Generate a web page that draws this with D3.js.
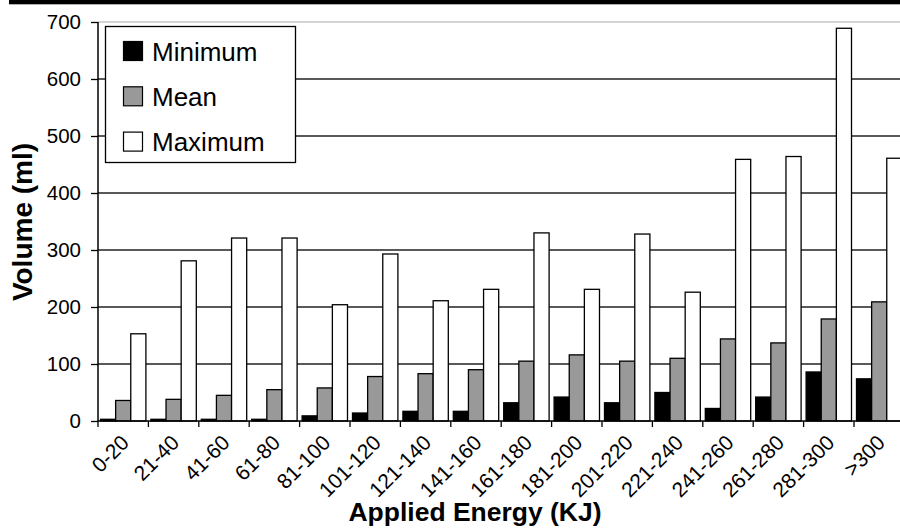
<!DOCTYPE html>
<html>
<head>
<meta charset="utf-8">
<script src="https://cdn.jsdelivr.net/npm/d3@7/dist/d3.min.js"></script>
<style>
  html, body { margin: 0; padding: 0; background: #fff; }
  svg { display: block; font-family: "Liberation Sans", Arial, Helvetica, sans-serif; }
</style>
</head>
<body>
<svg id="chart" width="900" height="529"></svg>
<script>
const categories = ["0-20","21-40","41-60","61-80","81-100","101-120","121-140","141-160","161-180","181-200","201-220","221-240","241-260","261-280","281-300",">300"];
const minimumValues = [3, 3, 3, 3, 9, 14, 17, 17, 32, 42, 32, 50, 22, 42, 86, 74];
const meanValues = [36, 38, 45, 55, 58, 78, 83, 90, 105, 116, 105, 110, 144, 137, 179, 209];
const maximumValues = [153, 281, 321, 321, 204, 293, 211, 231, 330, 231, 328, 226, 459, 464, 689, 461];
const seriesNames = ["Minimum", "Mean", "Maximum"];
const seriesColors = ["#000000", "#999999", "#ffffff"];
const yTicks = [0, 100, 200, 300, 400, 500, 600, 700];

const seriesValues = [minimumValues, meanValues, maximumValues];
const svg = d3.select("#chart");

// top black band
svg.append("rect").attr("x", 9).attr("y", 0).attr("width", 891).attr("height", 4.3).attr("fill", "#000");

const x0 = 98, x1 = 98 + 16 * 50.4;
const yTop = 22, yBot = 421;

const x = d3.scaleBand().domain(categories).range([x0, x1]).paddingInner(0).paddingOuter(0);
const xs = d3.scaleBand().domain(seriesNames).range([2.5, x.bandwidth() - 2.5]).padding(0);
const y = d3.scaleLinear().domain([0, 700]).range([yBot, yTop]);

// gridlines
svg.append("g").selectAll("line").data(yTicks.filter(d => d > 0)).join("line")
  .attr("x1", x0).attr("x2", 900)
  .attr("y1", d => y(d)).attr("y2", d => y(d))
  .attr("stroke", d => d === 700 ? "#aaaaaa" : "#222")
  .attr("stroke-width", d => d === 700 ? 1.2 : 1.3);

// bars
const rows = categories.map((c, i) => ({ c, vals: seriesValues.map((s, k) => ({ name: seriesNames[k], v: s[i], color: seriesColors[k] })) }));
const groups = svg.append("g").selectAll("g").data(rows).join("g")
  .attr("transform", d => `translate(${x(d.c)},0)`);
groups.selectAll("rect").data(d => d.vals).join("rect")
  .attr("x", d => xs(d.name))
  .attr("width", xs.bandwidth())
  .attr("y", d => y(d.v))
  .attr("height", d => yBot - y(d.v))
  .attr("fill", d => d.color)
  .attr("stroke", "#000")
  .attr("stroke-width", 1.3);

// y axis
const yAxis = d3.axisLeft(y).tickValues(yTicks).tickSize(7).tickPadding(10).tickFormat(d3.format("d"));
const gy = svg.append("g").attr("transform", `translate(${x0},0)`).call(yAxis);
gy.select(".domain").attr("stroke", "#000").attr("stroke-width", 1.5).attr("d", `M0,${yTop}V${yBot}`);
gy.selectAll(".tick line").attr("stroke", "#000").attr("stroke-width", 1.3);
gy.selectAll(".tick text").attr("font-size", 20.5).attr("fill", "#000")
  .attr("font-family", '"Liberation Sans", Arial, sans-serif');

// x axis
const xAxis = d3.axisBottom(x).tickSize(0).tickFormat(d => d);
const gx = svg.append("g").attr("transform", `translate(0,${yBot})`).call(xAxis);
gx.select(".domain").attr("stroke", "#000").attr("stroke-width", 1.5).attr("d", `M${x0},0H900`);
gx.selectAll(".tick text")
  .attr("font-size", 21).attr("fill", "#000")
  .attr("font-family", '"Liberation Sans", Arial, sans-serif')
  .attr("text-anchor", "end")
  .attr("dy", null).attr("y", null)
  .attr("transform", "translate(7,23) rotate(-45)");
// category boundary ticks
const bounds = categories.map(c => x(c));
svg.append("g").selectAll("line").data(bounds).join("line")
  .attr("x1", d => d).attr("x2", d => d)
  .attr("y1", yBot).attr("y2", yBot + 6)
  .attr("stroke", "#000").attr("stroke-width", 1.3);

// axis titles
svg.append("text").attr("x", 475).attr("y", 521).attr("text-anchor", "middle")
  .attr("font-size", 25.5).attr("font-weight", "bold").attr("fill", "#000")
  .attr("textLength", 253).attr("lengthAdjust", "spacingAndGlyphs")
  .text("Applied Energy (KJ)");
svg.append("text").attr("transform", "translate(32,222) rotate(-90)").attr("text-anchor", "middle")
  .attr("font-size", 28).attr("font-weight", "bold").attr("fill", "#000")
  .text("Volume (ml)");

// legend
const lg = svg.append("g");
lg.append("rect").attr("x", 105.5).attr("y", 26.5).attr("width", 190).attr("height", 136)
  .attr("fill", "#fff").attr("stroke", "#000").attr("stroke-width", 1.3);
const items = lg.selectAll("g.item").data(seriesNames).join("g").attr("class", "item")
  .attr("transform", (d, i) => `translate(0,${i * 45.3})`);
items.append("rect").attr("x", 123.5).attr("y", 41.5).attr("width", 19).attr("height", 19)
  .attr("fill", (d, i) => seriesColors[i]).attr("stroke", "#000").attr("stroke-width", 1.2);
items.append("text").attr("x", 152).attr("y", 60.5).attr("font-size", 26).attr("fill", "#000")
  .text(d => d);
</script>
</body>
</html>
